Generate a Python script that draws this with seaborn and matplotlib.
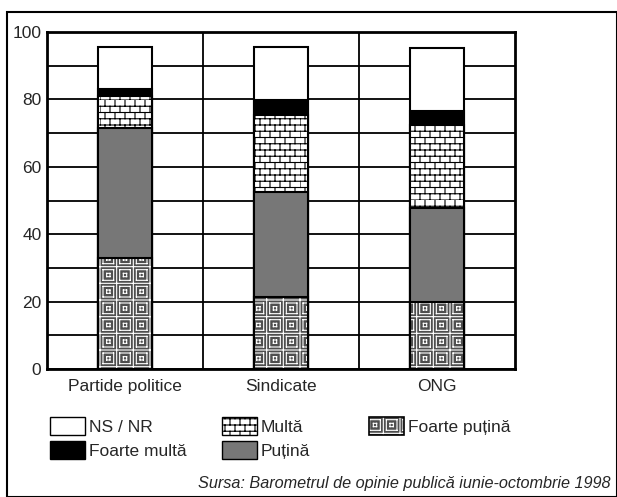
import warnings
import numpy as np
import pandas as pd
import matplotlib
matplotlib.use("Agg")
import matplotlib.pyplot as plt
import matplotlib.hatch as mhatch
from matplotlib.path import Path
from matplotlib.patches import Patch, Rectangle
from matplotlib.legend_handler import HandlerTuple
import seaborn as sns

warnings.filterwarnings("ignore")

# Data (percent), stacked bottom to top
categories = ["Partide politice", "Sindicate", "ONG"]
foarte_putina = [33.0, 21.5, 20.0]
putina = [38.5, 31.0, 27.7]
multa = [9.5, 23.0, 24.7]
foarte_multa = [2.0, 4.2, 4.2]
ns_nr = [12.5, 15.8, 18.8]

layers = [
    ("Foarte puțină", foarte_putina),
    ("Puțină", putina),
    ("Multă", multa),
    ("Foarte multă", foarte_multa),
    ("NS / NR", ns_nr),
]


def add_seg(vertices, codes, k, p0, p1):
    vertices[k] = p0
    vertices[k + 1] = p1
    codes[k] = Path.MOVETO
    codes[k + 1] = Path.LINETO
    return k + 2


# custom hatches: 'Q' = boxed concentric squares, 'B' = bricks
# (drawn as separate segments so Agg doesn't fill them)
class ConcentricSquares(mhatch.HatchPatternBase):
    rings = (0.32, 0.10)

    def __init__(self, hatch, density):
        self.num = 6 if "Q" in hatch else 0
        n = self.num
        self.num_vertices = (2 * (n + 1) * 2 + n * n * len(self.rings) * 8) if n else 0

    def set_vertices_and_codes(self, vertices, codes):
        k = 0
        n = self.num
        step = 1.0 / n
        for i in range(n + 1):
            k = add_seg(vertices, codes, k, (i * step, 0), (i * step, 1))
            k = add_seg(vertices, codes, k, (0, i * step), (1, i * step))
        for i in range(n):
            for j in range(n):
                cx, cy = (i + 0.5) * step, (j + 0.5) * step
                for r in self.rings:
                    h = r * step
                    c = [(cx - h, cy - h), (cx + h, cy - h), (cx + h, cy + h),
                         (cx - h, cy + h)]
                    for m in range(4):
                        k = add_seg(vertices, codes, k, c[m], c[(m + 1) % 4])


class Bricks(mhatch.HatchPatternBase):
    def __init__(self, hatch, density):
        on = "B" in hatch
        self.rows = 16 if on else 0
        self.cols = 10 if on else 0
        self.num_vertices = self.rows * 2 + self.rows * self.cols * 2

    def set_vertices_and_codes(self, vertices, codes):
        k = 0
        dy = 1.0 / self.rows
        dx = 1.0 / self.cols
        for r in range(self.rows):
            y = r * dy
            k = add_seg(vertices, codes, k, (0, y), (1, y))
            off = 0.5 * dx if r % 2 else 0.0
            for c in range(self.cols):
                x = c * dx + off
                k = add_seg(vertices, codes, k, (x, y), (x, y + dy))


mhatch._hatch_types.append(ConcentricSquares)
mhatch._hatch_types.append(Bricks)

# style per layer: face, hatch, hatch colour
styles = {
    "Foarte puțină": dict(face="#4e4e4e", hatch="Q", hcol="white"),
    "Puțină": dict(face="#777777", hatch=None, hcol="black"),
    "Multă": dict(face="white", hatch="B", hcol="black"),
    "Foarte multă": dict(face="black", hatch=None, hcol="black"),
    "NS / NR": dict(face="white", hatch=None, hcol="black"),
}

sns.set_style("white")
plt.rcParams["font.family"] = ["Liberation Sans", "DejaVu Sans"]
plt.rcParams["hatch.linewidth"] = 0.8

fig = plt.figure(figsize=(6.17, 4.97), dpi=100)
ax = fig.add_axes([0.0762, 0.2575, 0.7585, 0.6781])

# cumulative tops, drawn tallest first so lower layers cover them
cum = np.cumsum([vals for _, vals in layers], axis=0)
for i in range(len(layers) - 1, -1, -1):
    name = layers[i][0]
    st = styles[name]
    df = pd.DataFrame({"cat": categories, "top": cum[i]})
    sns.barplot(data=df, x="cat", y="top", color=st["face"], saturation=1,
                width=0.34, edgecolor=st["hcol"], hatch=st["hatch"],
                linewidth=0 if st["hcol"] == "white" else 1.5, ax=ax, zorder=3)
    if st["hcol"] == "white":
        sns.barplot(data=df, x="cat", y="top", fill=False, color="black",
                    width=0.34, linewidth=1.5, ax=ax, zorder=4)

ax.set_xlim(-0.5, 2.5)
ax.set_ylim(0, 100)
ax.set_yticks(range(0, 101, 20))
ax.set_yticks(range(0, 101, 10), minor=True)
ax.grid(True, axis="y", which="both", color="black", linewidth=1.3, zorder=0)
ax.set_axisbelow(True)
for xv in (0.5, 1.5):
    ax.axvline(xv, color="black", linewidth=1.3, zorder=0)
for s in ax.spines.values():
    s.set_linewidth(2)
    s.set_color("black")
ax.tick_params(axis="both", length=0, labelsize=12.5, pad=4)
ax.tick_params(axis="x", pad=7)
ax.set_xlabel("")
ax.set_ylabel("")

fp_handle = (Patch(facecolor="#4e4e4e", edgecolor="white", hatch="Q", linewidth=0),
             Patch(fill=False, edgecolor="black", linewidth=1.2))
legend_cols = [
    (50, [Patch(facecolor="white", edgecolor="black", label="NS / NR"),
          Patch(facecolor="black", edgecolor="black", label="Foarte multă")],
     ["NS / NR", "Foarte multă"]),
    (222, [Patch(facecolor="white", edgecolor="black", hatch="B", label="Multă"),
           Patch(facecolor="#777777", edgecolor="black", label="Puțină")],
     ["Multă", "Puțină"]),
    (369, [fp_handle], ["Foarte puțină"]),
]
for xpix, hs, labels in legend_cols:
    fig.legend(handles=hs, labels=labels, loc="upper left",
               bbox_to_anchor=(xpix / 617, 1 - 417 / 497),
               handler_map={tuple: HandlerTuple(ndivide=1, pad=0)},
               frameon=False, fontsize=12.5, handlelength=2.0, handleheight=1.25,
               handletextpad=0.25, labelspacing=0.3, borderaxespad=0, borderpad=0)

fig.text(0.99, 0.012, "Sursa: Barometrul de opinie publică iunie-octombrie 1998",
         ha="right", va="bottom", style="italic", fontsize=11.7)

fig.patches.append(Rectangle((0.011, 0.0), 0.989, 0.976, transform=fig.transFigure,
                             fill=False, edgecolor="black", linewidth=1.5))

fig.savefig("out.png", dpi=100)
